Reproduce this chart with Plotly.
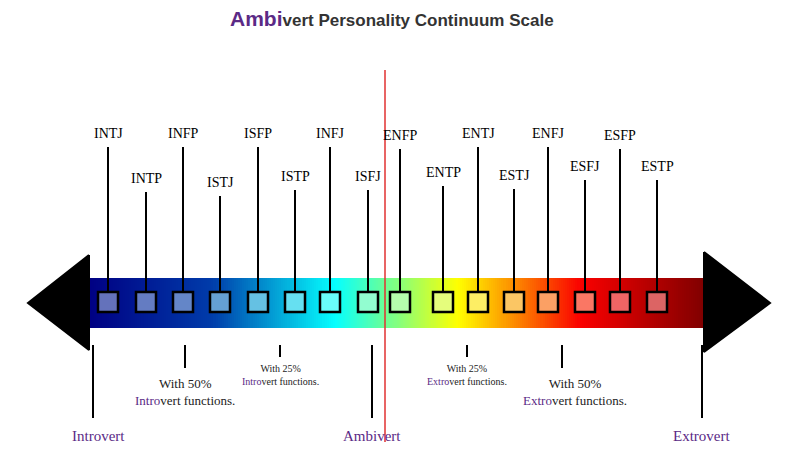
import plotly.graph_objects as go
import plotly.colors as pc
import numpy as np

types = ["INTJ","INTP","INFP","ISTJ","ISFP","ISTP","INFJ","ISFJ",
         "ENFP","ENTP","ENTJ","ESTJ","ENFJ","ESFJ","ESFP","ESTP"]
type_x = [108,146,183,220,258,295,330,368,400,443,478,514,548,585,620,657]
label_y = [133,178,133,182,133,176,133,176,135,172,133,175,133,166,135,166]
jet_pos = [(x-88)/(705-88) for x in type_x]

tick_x = [93,185,280,372,467,562,702]
tick_bottom = [418,368,357,418,357,368,418]

PURPLE = "#5b2a86"
fig = go.Figure()

# gradient bar (y given as cell edges)
gx = np.linspace(88, 705, 301)
gc = (gx[:-1] + gx[1:]) / 2
fig.add_trace(go.Heatmap(x=gx, y=[278, 328], z=[gc], colorscale="Jet",
                         showscale=False, hoverinfo="skip"))

fig.add_trace(go.Scatter(x=[89,28,89,89], y=[255,303,350,255], fill="toself",
                         fillcolor="black", line=dict(color="black"), mode="lines", hoverinfo="skip"))
fig.add_trace(go.Scatter(x=[704,770,704,704], y=[252,303,352,252], fill="toself",
                         fillcolor="black", line=dict(color="black"), mode="lines", hoverinfo="skip"))

shapes = []
for t, x, ly, p in zip(types, type_x, label_y, jet_pos):
    shapes.append(dict(type="line", x0=x, x1=x, y0=ly+14, y1=292, line=dict(color="black", width=2)))
    base = pc.sample_colorscale("Jet", [min(1, p*0.9+0.05)])[0]
    r, g, b = [int(v) for v in base[4:-1].split(",")]
    col = f"rgb({(r+255)//2},{(g+255)//2},{(b+255)//2})" if 0 else f"rgb({int(r*0.6+100)},{int(g*0.6+100)},{int(b*0.6+100)})"
    shapes.append(dict(type="rect", x0=x-10, x1=x+10, y0=292, y1=312,
                       fillcolor=col, line=dict(color="black", width=2.5)))
    fig.add_annotation(x=x, y=ly, text=t, showarrow=False,
                       font=dict(family="Liberation Serif", size=14, color="black"))

for x, b in zip(tick_x, tick_bottom):
    shapes.append(dict(type="line", x0=x, x1=x, y0=345, y1=b, line=dict(color="black", width=2)))

shapes.append(dict(type="line", x0=385, x1=385, y0=70, y1=450, line=dict(color="#e03030", width=1.5)))

texts = [
    (98, 436, f"<span style='color:{PURPLE}'>Introvert</span>", 15),
    (372, 436, f"<span style='color:{PURPLE}'>Ambivert</span>", 15),
    (701, 436, f"<span style='color:{PURPLE}'>Extrovert</span>", 15),
    (185, 392, f"With 50%<br><span style='color:{PURPLE}'>Intro</span>vert functions.", 13),
    (280, 375, f"With 25%<br><span style='color:{PURPLE}'>Intro</span>vert functions.", 10),
    (467, 375, f"With 25%<br><span style='color:{PURPLE}'>Extro</span>vert functions.", 10),
    (575, 392, f"With 50%<br><span style='color:{PURPLE}'>Extro</span>vert functions.", 13),
]
for x, y, t, s in texts:
    fig.add_annotation(x=x, y=y, text=t, showarrow=False,
                       font=dict(family="Liberation Serif", size=s, color="#222"))

fig.add_annotation(x=392, y=18, showarrow=False,
                   text=f"<b><span style='color:{PURPLE};font-size:21px'>Ambi</span>vert Personality Continuum Scale</b>",
                   font=dict(family="Liberation Sans", size=17, color="#333"))

fig.update_layout(width=784, height=434, margin=dict(l=0, r=0, t=0, b=0),
                  plot_bgcolor="white", paper_bgcolor="white", showlegend=False, shapes=shapes,
                  xaxis=dict(range=[8, 792], visible=False, fixedrange=True),
                  yaxis=dict(range=[442, 8], visible=False, fixedrange=True))
fig.write_html("out.html")
